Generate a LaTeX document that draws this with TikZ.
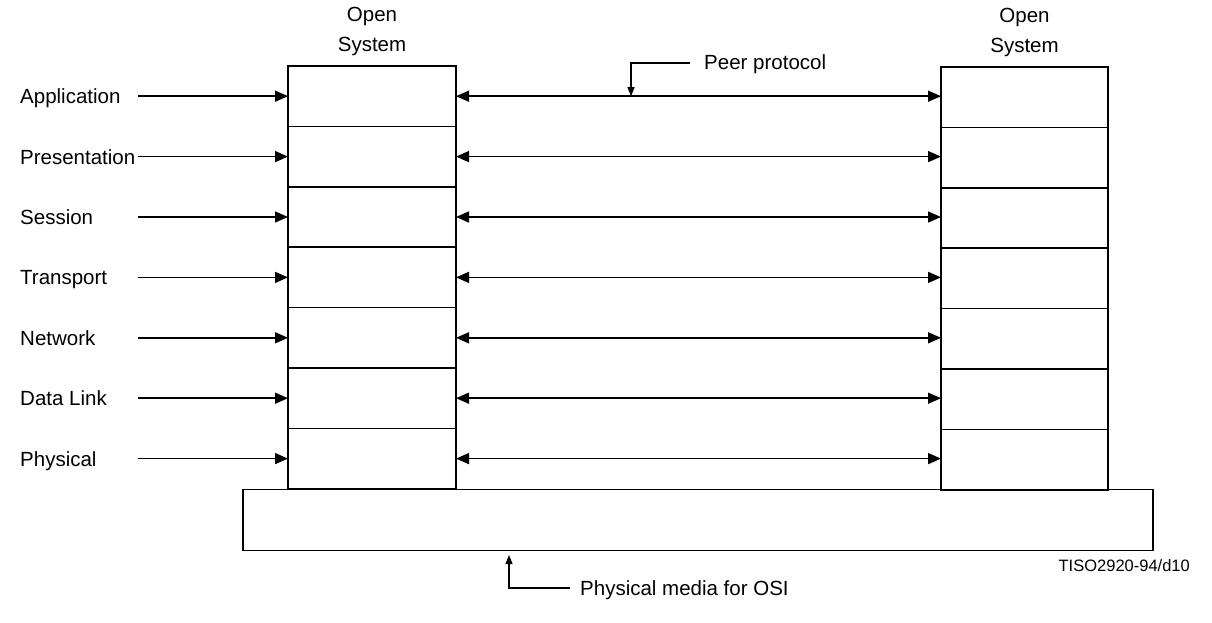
\documentclass[tikz,border=0pt]{standalone}
\usepackage{fontspec}
\setmainfont{Liberation Sans}
\usetikzlibrary{arrows.meta}
\begin{document}
\begin{tikzpicture}[x=1pt,y=-1pt,
  layerbox/.style={draw,line width=1.6pt,minimum width=168pt,minimum height=60.4pt,inner sep=0pt,outer sep=0pt},
  lbl/.style={font=\fontsize{20.5}{24}\selectfont,inner sep=0pt,anchor=base west},
  head/.style={font=\fontsize{20.5}{30}\selectfont,align=center,inner sep=0pt},
  conn/.style={line width=1.5pt,-{Triangle[length=13pt,width=11pt]}},
  dconn/.style={line width=1.5pt,{Triangle[length=13pt,width=11pt]}-{Triangle[length=13pt,width=11pt]}},
  callout/.style={line width=1.3pt,-{Triangle[length=9pt,width=7pt]}}]
\useasboundingbox (0,0) rectangle (1212,622);
\fill[white] (0,0) rectangle (1212,622);
% stacks
\foreach \i/\n in {1/Application,2/Presentation,3/Session,4/Transport,5/Network,6/Data Link,7/Physical}{
  \pgfmathsetmacro\yc{96.2+(\i-1)*60.4}
  \node[layerbox] (L\i) at (372,\yc) {};
  \node[layerbox,minimum width=167pt] (R\i) at (1024.5,\yc+1) {};
  \node[lbl] (T\i) at (20,\yc+7.5) {\n};
  \coordinate (S\i) at (138,\yc);
  \draw[conn] (S\i) -- (L\i.west);
}
\foreach \i in {1,...,7}{
  \draw[dconn] (L\i.east) -- (R\i.west |- L\i.east);
}
% base
\node[draw,line width=1.6pt,minimum width=910pt,minimum height=61pt,inner sep=0pt,outer sep=0pt] (base) at (698,520) {};
% headings
\node[head] (hl) at (372,31) {Open\\System};
\node[head] (hr) at (1024.5,32) {Open\\System};
% peer protocol callout
\node[lbl] (peer) at (704,69.5) {Peer protocol};
\coordinate (pc) at (690,63);
\coordinate (pk) at (631,63);
\coordinate (pt) at (631,96.2);
\draw[callout] (pc) -- (pk) -- (pt);
% physical media callout
\node[lbl] (media) at (580,595.5) {Physical media for OSI};
\coordinate (mc) at (570,588);
\coordinate (mk) at (509,588);
\coordinate (mt) at (509,555);
\draw[callout] (mc) -- (mk) -- (mt);
% figure id
\node[font=\fontsize{16.5}{19}\selectfont,inner sep=0pt,anchor=base east] (fid) at (1190,571) {TISO2920-94/d10};
\end{tikzpicture}
\end{document}
